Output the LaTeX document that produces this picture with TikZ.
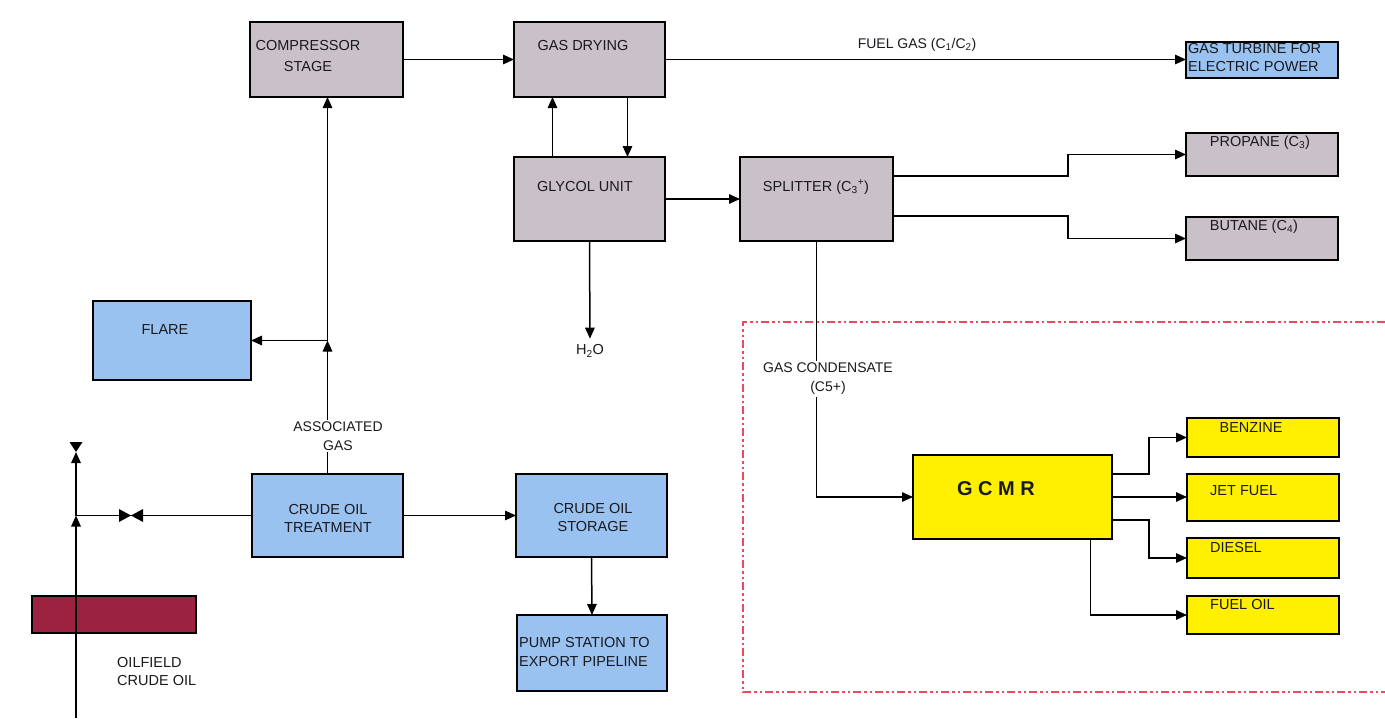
\documentclass[tikz,border=0pt]{standalone}
\usepackage{fontspec}
\setmainfont{Liberation Sans}
\usetikzlibrary{arrows.meta}
\definecolor{boxgray}{RGB}{201,193,199}
\definecolor{boxblue}{RGB}{153,194,240}
\definecolor{boxyellow}{RGB}{255,240,0}
\definecolor{oilred}{RGB}{155,35,65}
\definecolor{dashred}{RGB}{236,72,96}
\definecolor{inkc}{RGB}{25,25,30}
\begin{document}
\begin{tikzpicture}[x=1pt,y=-1pt,
 box/.style={draw=black, line width=2.6pt, inner sep=0pt, outer sep=0pt},
 gbox/.style={box, fill=boxgray},
 bbox/.style={box, fill=boxblue},
 ybox/.style={box, fill=boxyellow},
 txt/.style={font=\fontsize{14.5}{18}\selectfont, text=inkc, inner sep=0pt, align=center},
 ltxt/.style={txt, align=left, anchor=west},
 lbl/.style={font=\fontsize{14}{19}\selectfont, text=inkc, inner sep=2pt, align=center, fill=white},
 arr/.style={line width=1.5pt, -{Triangle[length=11pt,width=9.5pt]}},
 ln/.style={line width=1.5pt},
 vtri/.style={fill=black},
]
\useasboundingbox (0,0) rectangle (1385,718);
\fill[white] (0,0) rectangle (1385,718);

% dashed region
\draw[dashred, line width=2pt, dash pattern=on 8pt off 3pt on 2.5pt off 3pt on 2.5pt off 3pt]
  (1385,322) -- (743,322) -- (743,692) -- (1385,692);

% boxes
\node[gbox, minimum width=153pt, minimum height=75pt] (comp) at (326.5,59.5) {};
\node[gbox, minimum width=151pt, minimum height=75pt] (dry) at (589.5,59.5) {};
\node[gbox, minimum width=151pt, minimum height=84pt] (gly) at (589.5,199) {};
\node[gbox, minimum width=153pt, minimum height=84pt] (spl) at (816.5,199) {};
\node[bbox, minimum width=152pt, minimum height=36pt] (turb) at (1262,60) {};
\node[gbox, minimum width=152pt, minimum height=43pt] (prop) at (1262,154.5) {};
\node[gbox, minimum width=152pt, minimum height=43pt] (but) at (1262,238.5) {};
\node[bbox, minimum width=158pt, minimum height=79pt] (flare) at (172,340.5) {};
\node[bbox, minimum width=151pt, minimum height=83pt] (trt) at (327.5,515.5) {};
\node[bbox, minimum width=151pt, minimum height=83pt] (sto) at (591.5,515.5) {};
\node[bbox, minimum width=150pt, minimum height=76pt] (pump) at (592,653) {};
\node[box, line width=1.6pt, fill=oilred, minimum width=164pt, minimum height=37pt] (oil) at (114,614.5) {};
\node[ybox, minimum width=199pt, minimum height=84pt] (gcmr) at (1012.5,497) {};
\node[ybox, minimum width=152pt, minimum height=39pt] (benz) at (1263,437.5) {};
\node[ybox, minimum width=152pt, minimum height=47pt] (jet) at (1263,497.5) {};
\node[ybox, minimum width=152pt, minimum height=40pt] (dies) at (1263,558) {};
\node[ybox, minimum width=152pt, minimum height=38pt] (fo) at (1263,615) {};

% box texts
\node[txt] (compT) at (308,56) {COMPRESSOR\\[3pt]STAGE};
\node[txt] (dryT) at (583,46) {GAS DRYING};
\node[txt] (glyT) at (585,187) {GLYCOL UNIT};
\node[txt] (splT) at (816,187) {SPLITTER (C\textsubscript{3}\textsuperscript{+})};
\node[ltxt] (turbT) at (1188,58) {GAS TURBINE FOR\\ELECTRIC POWER};
\node[txt] (propT) at (1260,143) {PROPANE (C\textsubscript{3})};
\node[txt] (butT) at (1254,227) {BUTANE (C\textsubscript{4})};
\node[txt] (flareT) at (165,330) {FLARE};
\node[txt] (trtT) at (328,518) {CRUDE OIL\\TREATMENT};
\node[txt] (stoT) at (593,518) {CRUDE OIL\\STORAGE};
\node[ltxt] (pumpT) at (519,652) {PUMP STATION TO\\EXPORT PIPELINE};
\node[ltxt] (oilT) at (117,672) {OILFIELD\\CRUDE OIL};
\node[txt, font=\fontsize{20}{24}\bfseries] (gcmrT) at (996,489) {G C M R};
\node[txt] (benzT) at (1251,428) {BENZINE};
\node[ltxt] (jetT) at (1210,491) {JET FUEL};
\node[ltxt] (diesT) at (1210,548) {DIESEL};
\node[ltxt] (foT) at (1210,605) {FUEL OIL};

% gas line
\draw[arr] (comp.east) -- (dry.west);
\draw[arr] (dry.east) -- (dry.east -| turb.west);
\node[txt, font=\fontsize{14}{17}\selectfont] (fuelT) at (917,45) {FUEL GAS (C\textsubscript{1}/C\textsubscript{2})};
\draw[arr] ([xshift=-37pt]gly.north) -- ([xshift=-37pt]dry.south);
\draw[arr] ([xshift=38pt]dry.south) -- ([xshift=38pt]gly.north);
\draw[arr] (gly.east) -- (spl.west);
\node[txt] (h2o) at (590,351) {H\textsubscript{2}O};
\draw[arr, shorten >=6pt] (gly.south) -- (h2o.north);

% splitter outputs
\draw[arr] ([yshift=23pt]spl.east) -- ++(175,0) |- (prop.west);
\draw[arr] ([yshift=-17pt]spl.east) -- ++(175,0) |- (but.west);
\draw[arr] (spl.south) |- (gcmr.west);
\node[lbl] (condT) at (828,379) {GAS CONDENSATE\\(C5+)};

% GCMR outputs
\draw[arr] ([yshift=23pt]gcmr.east) -- ++(37,0) |- (benz.west);
\draw[arr] (gcmr.east) -- (gcmr.east -| jet.west);
\draw[arr] ([yshift=-23pt]gcmr.east) -- ++(37,0) |- (dies.west);
\draw[arr] ([xshift=78pt]gcmr.south) |- (fo.west);

% associated gas
\coordinate (fj) at (trt.north |- flare.east);
\draw[arr] (trt.north) -- (fj);
\draw[arr] (fj) -- (fj |- comp.south);
\draw[arr] (fj) -- (flare.east);
\node[lbl] (assocT) at (338,436) {ASSOCIATED\\GAS};

% crude oil lines
\draw[arr] (trt.east) -- (sto.west);
\draw[arr] (sto.south) -- (pump.north);

% oilfield pipe with valves
\coordinate (lj) at (76,515.5);
\coordinate (pbot) at (76,718);
\coordinate (vtop) at (76,452);
\draw[ln] (trt.west) -- (lj);
\fill[vtri] (119,509) -- (131,515.5) -- (119,522) -- cycle;
\fill[vtri] (143,509) -- (131,515.5) -- (143,522) -- cycle;
\draw[arr] (pbot) -- (lj);
\draw[arr] (lj) -- (vtop);
\fill[vtri] (69.5,442) -- (82.5,442) -- (76,452) -- cycle;
\end{tikzpicture}
\end{document}
